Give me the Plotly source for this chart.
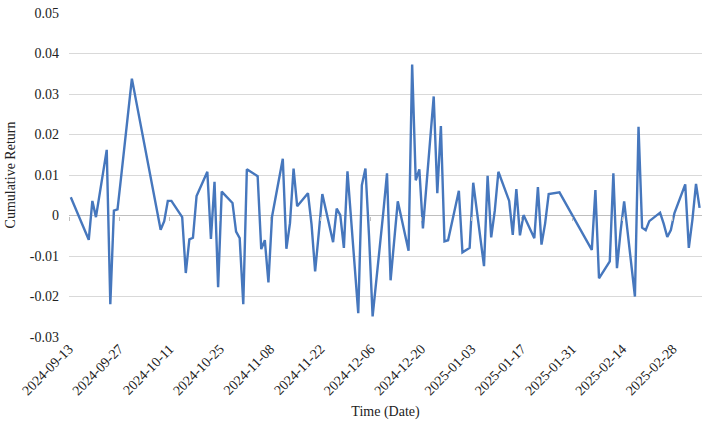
import pandas as pd
import plotly.graph_objects as go

dates = [
    "2024-09-13", "2024-09-18", "2024-09-19", "2024-09-20", "2024-09-23", "2024-09-24",
    "2024-09-25", "2024-09-26", "2024-09-27", "2024-09-30",
    "2024-10-08", "2024-10-09", "2024-10-10", "2024-10-11", "2024-10-14", "2024-10-15",
    "2024-10-16", "2024-10-17", "2024-10-18", "2024-10-21", "2024-10-22", "2024-10-23",
    "2024-10-24", "2024-10-25", "2024-10-28", "2024-10-29", "2024-10-30", "2024-10-31",
    "2024-11-01", "2024-11-04", "2024-11-05", "2024-11-06", "2024-11-07", "2024-11-08",
    "2024-11-11", "2024-11-12", "2024-11-13", "2024-11-14", "2024-11-15", "2024-11-18",
    "2024-11-19", "2024-11-20", "2024-11-21", "2024-11-22", "2024-11-25", "2024-11-26",
    "2024-11-27", "2024-11-28", "2024-11-29",
    "2024-12-02", "2024-12-03", "2024-12-04", "2024-12-05", "2024-12-06", "2024-12-09",
    "2024-12-10", "2024-12-11", "2024-12-12", "2024-12-13", "2024-12-16", "2024-12-17",
    "2024-12-18", "2024-12-19", "2024-12-20", "2024-12-23", "2024-12-24", "2024-12-25",
    "2024-12-26", "2024-12-27", "2024-12-30", "2024-12-31",
    "2025-01-02", "2025-01-03", "2025-01-06", "2025-01-07", "2025-01-08", "2025-01-09",
    "2025-01-10", "2025-01-13", "2025-01-14", "2025-01-15", "2025-01-16", "2025-01-17",
    "2025-01-20", "2025-01-21", "2025-01-22", "2025-01-23", "2025-01-24", "2025-01-27",
    "2025-02-05", "2025-02-06", "2025-02-07", "2025-02-10", "2025-02-11", "2025-02-12",
    "2025-02-13", "2025-02-14", "2025-02-17", "2025-02-18", "2025-02-19", "2025-02-20",
    "2025-02-21", "2025-02-24", "2025-02-25", "2025-02-26", "2025-02-27", "2025-02-28",
    "2025-03-03", "2025-03-04", "2025-03-05", "2025-03-06", "2025-03-07",
]

returns = [
    0.0045, -0.0060, 0.0036, -0.0004, 0.0162, -0.0219, 0.0012, 0.0015, 0.0095, 0.0338,
    -0.0035, -0.0014, 0.0036, 0.0036, -0.0004, -0.0142, -0.0059, -0.0055, 0.0048, 0.0108,
    -0.0058, 0.0083, -0.0177, 0.0059, 0.0031, -0.0040, -0.0056, -0.0219,
    0.0114, 0.0097, -0.0083, -0.0061, -0.0165, -0.0003, 0.0140, -0.0082, -0.0019, 0.0116,
    0.0023, 0.0055, -0.0022, -0.0138, -0.0045, 0.0053, -0.0066, 0.0017, 0.0001, -0.0080,
    0.0109,
    -0.0241, 0.0075, 0.0116, -0.0050, -0.0249, 0.0010, 0.0104, -0.0160, -0.0070, 0.0035,
    -0.0087, 0.0373, 0.0087, 0.0114, -0.0032, 0.0294, 0.0055, 0.0221, -0.0064, -0.0061,
    0.0061, -0.0091,
    -0.0080, 0.0081, -0.0125, 0.0098, -0.0054, 0.0012, 0.0108, 0.0036, -0.0048, 0.0065,
    -0.0049, 0.0001, -0.0056, 0.0070, -0.0072, -0.0020, 0.0053, 0.0057,
    -0.0085, 0.0063, -0.0155, -0.0113, 0.0104, -0.0130, -0.0040, 0.0035, -0.0200, 0.0219,
    -0.0030, -0.0036, -0.0014, 0.0007, -0.0020, -0.0053, -0.0036, 0.0006,
    0.0077, -0.0080, -0.0010, 0.0078, 0.0019,
]

tick_labels = [
    "2024-09-13", "2024-09-27", "2024-10-11", "2024-10-25", "2024-11-08", "2024-11-22",
    "2024-12-06", "2024-12-20", "2025-01-03", "2025-01-17", "2025-01-31", "2025-02-14",
    "2025-02-28",
]
y_ticks = [0.05, 0.04, 0.03, 0.02, 0.01, 0, -0.01, -0.02, -0.03]
y_tick_text = ["0.05", "0.04", "0.03", "0.02", "0.01", "0", "-0.01", "-0.02", "-0.03"]

# Excel date axis: each day is a slot, tick marks at slot edges (half a day before the point)
tick_pos = [(pd.Timestamp(d) - pd.Timedelta(hours=12)).strftime("%Y-%m-%d %H:%M") for d in tick_labels]
x_range = ["2024-09-12 12:00", "2025-03-07 16:00"]

FONT = "Liberation Serif, Times New Roman, serif"
fig = go.Figure()
fig.add_trace(go.Scatter(
    x=dates, y=returns, mode="lines",
    line=dict(color="#4677bd", width=2.4),
    showlegend=False, hoverinfo="skip",
))
# invisible trace to host the tick-mark axis at the zero line
fig.add_trace(go.Scatter(x=[dates[0]], y=[0], xaxis="x2", mode="markers",
                         marker=dict(opacity=0), showlegend=False, hoverinfo="skip"))

fig.update_layout(
    width=708, height=424,
    margin=dict(l=69, r=6, t=8, b=87),
    paper_bgcolor="white", plot_bgcolor="white",
    font=dict(family=FONT, size=13, color="#222"),
    xaxis=dict(
        type="date", range=x_range,
        tickmode="array", tickvals=tick_pos, ticktext=tick_labels,
        tickangle=-45, showgrid=False, zeroline=False, showline=False,
        ticks="", tickfont=dict(size=14, family=FONT, color="#222"),
        title=dict(text="Time (Date)", font=dict(size=14, family=FONT), standoff=8),
    ),
    xaxis2=dict(
        type="date", range=x_range, overlaying="x", anchor="free", position=0.375,
        tickmode="array", tickvals=tick_pos, ticktext=[""] * len(tick_pos),
        ticks="outside", ticklen=4, tickcolor="#bfbfbf", tickwidth=1,
        showgrid=False, zeroline=False, showline=False, showticklabels=False,
    ),
    yaxis=dict(
        range=[-0.03, 0.05], tickmode="array", tickvals=y_ticks, ticktext=y_tick_text,
        showgrid=True, gridcolor="#d9d9d9", gridwidth=1,
        zeroline=True, zerolinecolor="#bfbfbf", zerolinewidth=1,
        ticks="", ticklabelstandoff=9, tickfont=dict(size=14, family=FONT, color="#222"),
        title=dict(text="Cumulative Return", font=dict(size=14, family=FONT), standoff=10),
    ),
)

fig.write_html("out.html")
